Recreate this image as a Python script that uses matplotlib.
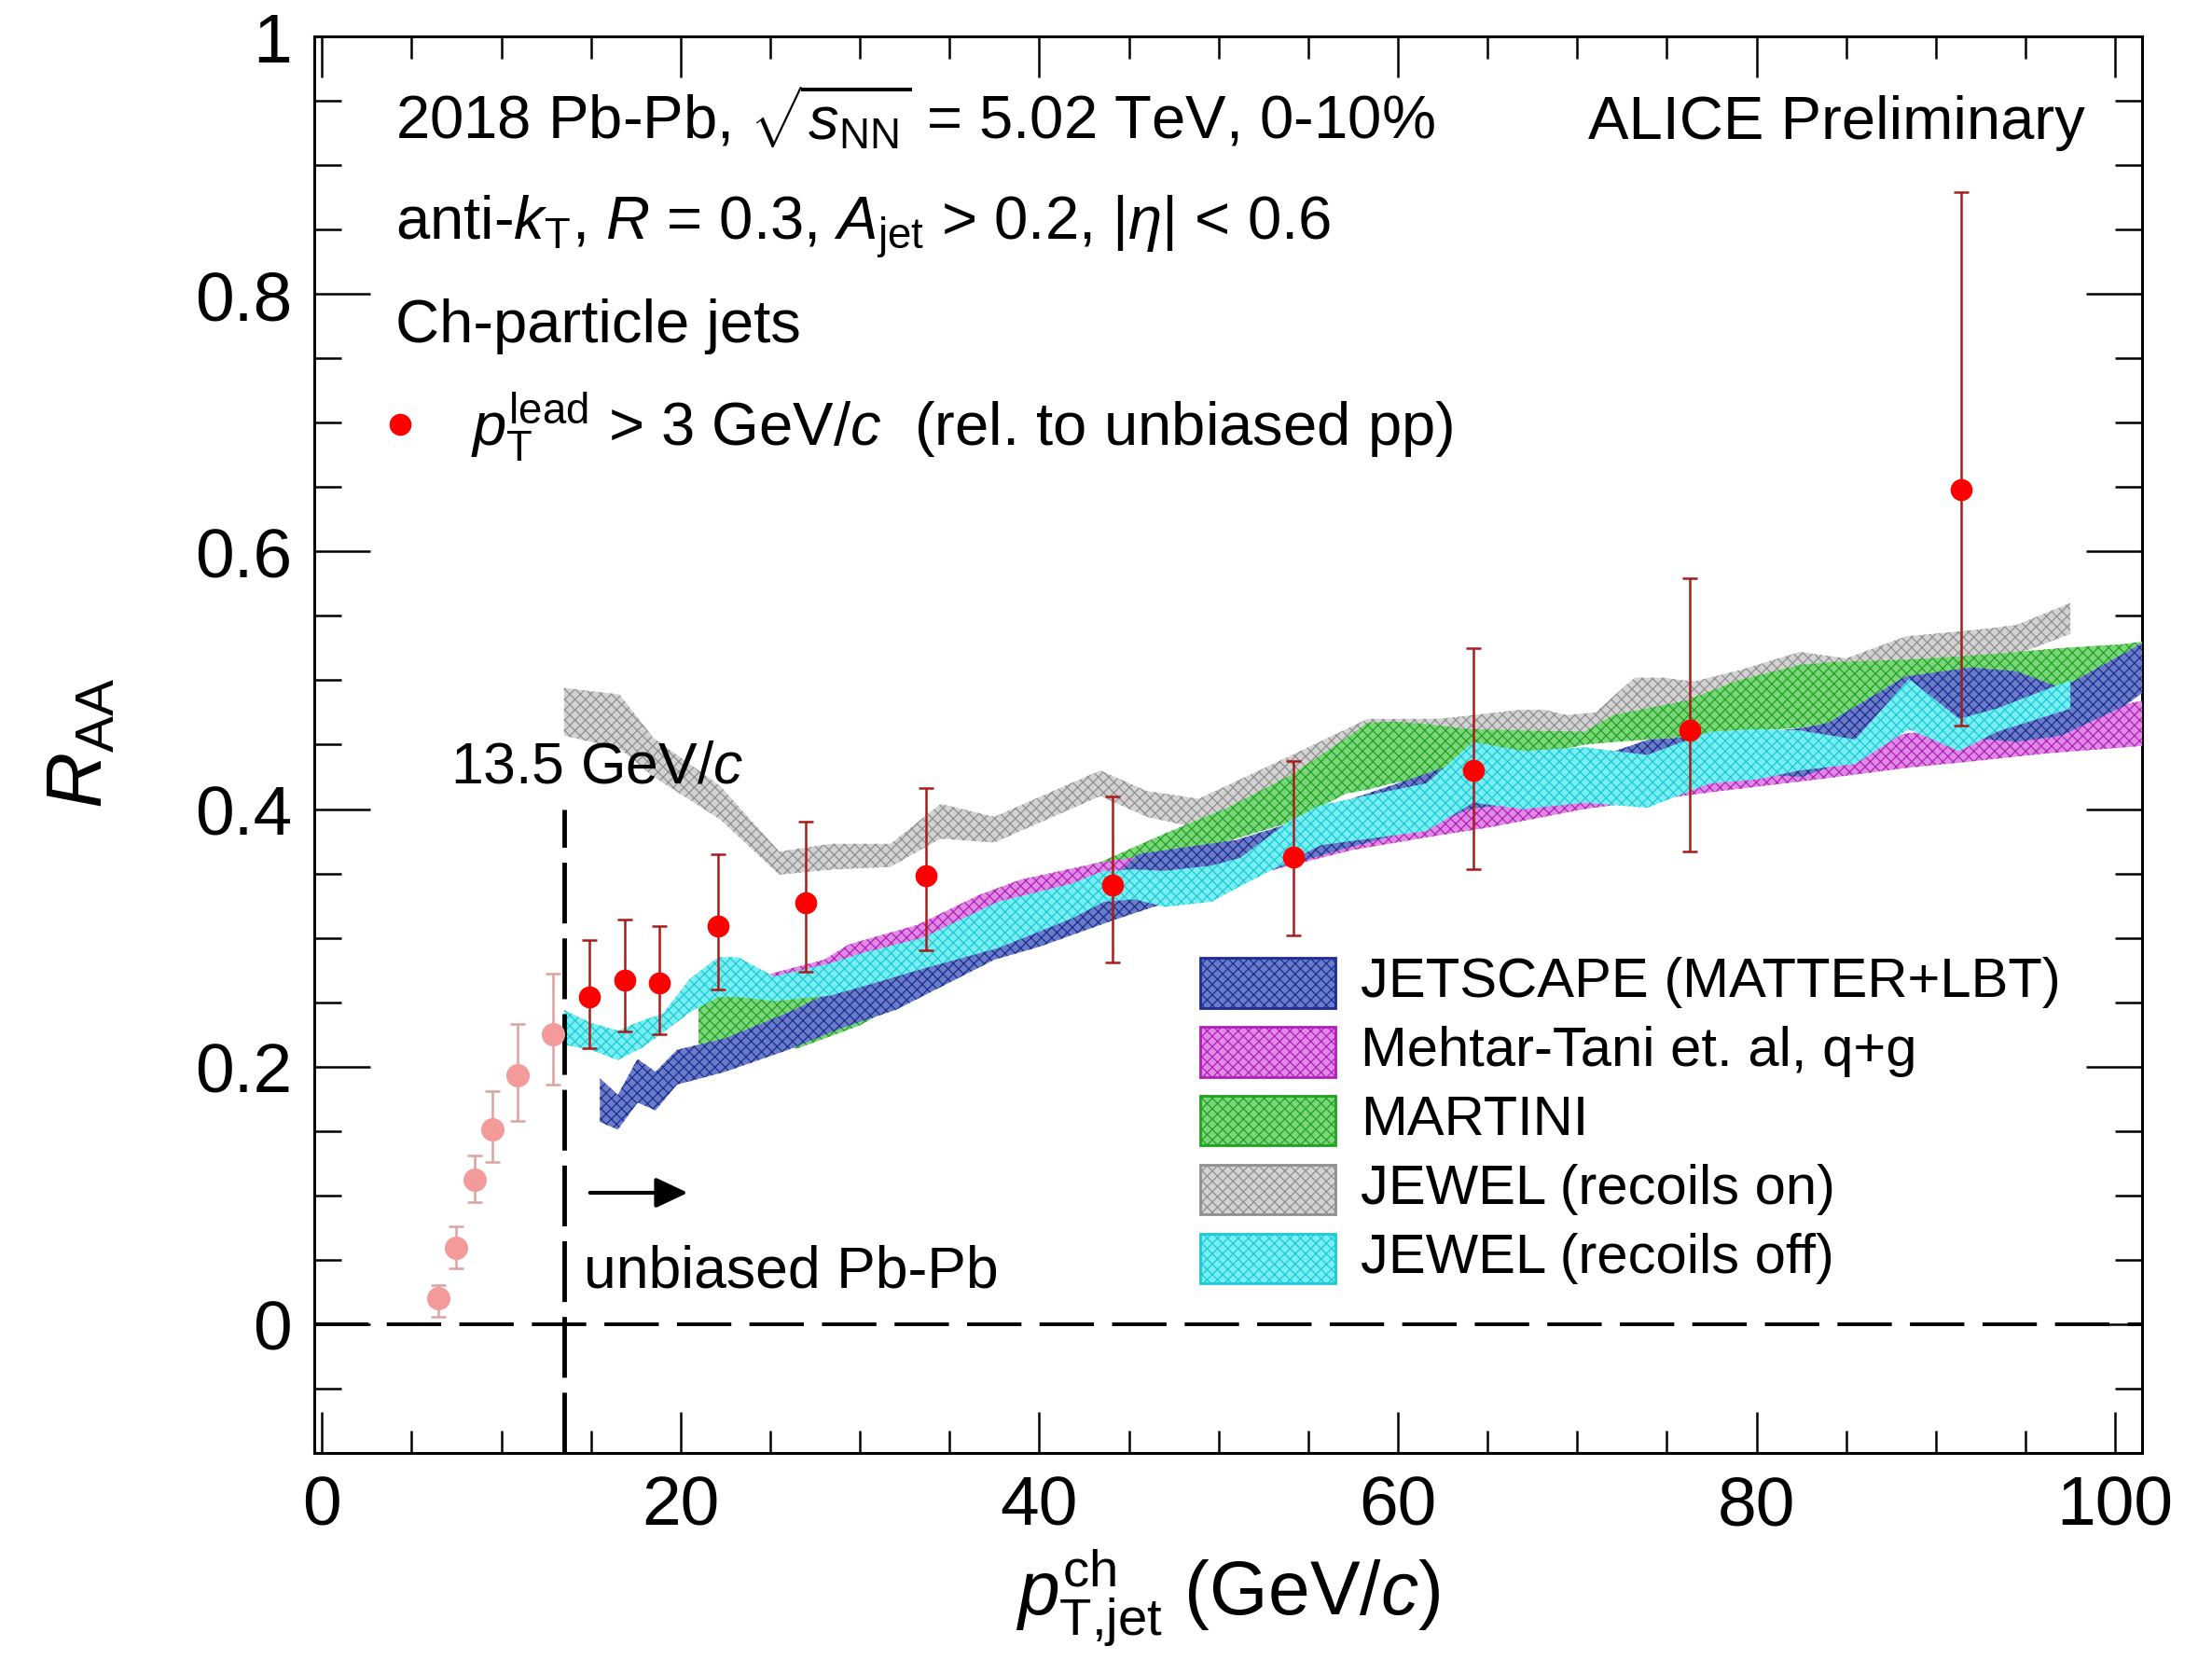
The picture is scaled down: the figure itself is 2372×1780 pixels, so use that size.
import numpy as np
import matplotlib
matplotlib.use("Agg")
import matplotlib.pyplot as plt
from matplotlib.ticker import MultipleLocator, FuncFormatter
from matplotlib.patches import Rectangle

plt.rcParams['font.family'] = ['Liberation Sans', 'DejaVu Sans']
plt.rcParams['mathtext.fontset'] = 'custom'
plt.rcParams['mathtext.rm'] = 'Liberation Sans'
plt.rcParams['mathtext.it'] = 'Liberation Sans:italic'
plt.rcParams['mathtext.bf'] = 'Liberation Sans:bold'
plt.rcParams['hatch.linewidth'] = 0.9

# ---------------- data ----------------
# ALICE points, pT,lead > 3 GeV/c (above 13.5 GeV/c)
x_red = [14.9, 16.9, 18.8, 22.1, 27.0, 33.7, 44.1, 54.2, 64.2, 76.3, 91.4]
y_red = [0.254, 0.267, 0.265, 0.309, 0.327, 0.348, 0.341, 0.363, 0.430, 0.461, 0.648]
y_red_hi = [0.298, 0.314, 0.309, 0.365, 0.390, 0.416, 0.410, 0.437, 0.525, 0.579, 0.879]
y_red_lo = [0.214, 0.227, 0.225, 0.260, 0.274, 0.290, 0.281, 0.302, 0.353, 0.367, 0.465]

# biased region points (below 13.5 GeV/c)
x_pink = [6.5, 7.5, 8.5, 9.5, 10.9, 12.9]
y_pink = [0.020, 0.059, 0.112, 0.151, 0.193, 0.225]
y_pink_hi = [0.030, 0.076, 0.131, 0.181, 0.233, 0.272]
y_pink_lo = [0.006, 0.043, 0.095, 0.126, 0.158, 0.186]

# JETSCAPE (MATTER+LBT)
js_x = [15.5, 16.5, 17.6, 18.6, 19.8, 22.5, 26.0, 29.0, 32.0, 37.5, 40.0, 44.0, 45.5, 51.0, 54.0,
        57.0, 61.5, 64.0, 67.0, 69.0, 71.0, 74.0, 77.5, 79.0, 82.5, 84.0, 88.3, 92.0, 94.5, 97.0,
        100.5, 101.5]
js_hi = [0.191, 0.178, 0.206, 0.196, 0.213, 0.222, 0.242, 0.262, 0.276, 0.305, 0.318, 0.345, 0.365,
         0.376, 0.389, 0.406, 0.427, 0.439, 0.444, 0.444, 0.440, 0.454, 0.457, 0.457, 0.463, 0.467,
         0.503, 0.510, 0.507, 0.494, 0.521, 0.529]
js_lo = [0.157, 0.151, 0.172, 0.166, 0.186, 0.196, 0.213, 0.230, 0.244, 0.283, 0.293, 0.313, 0.320,
         0.345, 0.357, 0.369, 0.386, 0.400, 0.405, 0.407, 0.407, 0.411, 0.425, 0.428, 0.425, 0.432,
         0.462, 0.455, 0.452, 0.457, 0.480, 0.490]

# Mehtar-Tani et. al, q+g
mt_x = [25.0, 28.0, 29.4, 33.2, 36.6, 38.9, 43.2, 50.0, 57.4, 61.6, 65.2, 70.4, 77.4, 83.4, 88.4,
        92.0, 96.0, 101.5]
mt_hi = [0.272, 0.283, 0.295, 0.310, 0.333, 0.345, 0.358, 0.372, 0.392, 0.402, 0.408, 0.415, 0.426,
         0.440, 0.459, 0.462, 0.470, 0.484]
mt_lo = [0.255, 0.262, 0.268, 0.280, 0.295, 0.302, 0.318, 0.342, 0.368, 0.378, 0.386, 0.400, 0.413,
         0.423, 0.432, 0.437, 0.443, 0.449]

# MARTINI
ma_x = [21.0, 24.5, 26.5, 30.0, 33.0, 36.6, 38.9, 43.6, 47.0, 50.5, 54.1, 57.1, 58.3, 59.7, 61.6,
        64.0, 70.4, 72.0, 76.0, 79.0, 82.4, 84.0, 88.3, 92.8, 97.0, 100.4, 101.5]
ma_hi = [0.254, 0.257, 0.262, 0.282, 0.300, 0.322, 0.338, 0.360, 0.381, 0.401, 0.427, 0.455, 0.467,
         0.468, 0.466, 0.462, 0.460, 0.473, 0.484, 0.500, 0.512, 0.514, 0.516, 0.520, 0.525, 0.528,
         0.530]
ma_lo = [0.217, 0.217, 0.214, 0.232, 0.255, 0.285, 0.300, 0.330, 0.355, 0.375, 0.390, 0.412, 0.415,
         0.420, 0.424, 0.430, 0.450, 0.452, 0.456, 0.460, 0.463, 0.467, 0.480, 0.490, 0.495, 0.500,
         0.500]

# JEWEL (recoils on)
jo_x = [13.5, 16.6, 18.5, 22.2, 25.5, 28.4, 31.7, 34.5, 37.5, 43.4, 46.0, 48.9, 54.1, 58.3, 62.3,
        66.8, 68.2, 69.4, 71.0, 73.2, 74.8, 76.5, 79.1, 82.4, 85.0, 88.3, 92.8, 94.5, 97.5]
jo_hi = [0.494, 0.489, 0.455, 0.418, 0.367, 0.373, 0.373, 0.404, 0.394, 0.430, 0.414, 0.408, 0.442,
         0.470, 0.470, 0.477, 0.477, 0.473, 0.475, 0.502, 0.502, 0.499, 0.508, 0.522, 0.517, 0.534,
         0.540, 0.543, 0.560]
jo_lo = [0.457, 0.447, 0.425, 0.392, 0.349, 0.353, 0.355, 0.377, 0.374, 0.410, 0.394, 0.385, 0.420,
         0.450, 0.455, 0.455, 0.455, 0.455, 0.455, 0.470, 0.478, 0.478, 0.490, 0.505, 0.505, 0.515,
         0.518, 0.520, 0.536]

# JEWEL (recoils off)
jf_x = [13.5, 15.0, 16.5, 17.9, 19.0, 20.5, 22.1, 23.2, 25.2, 28.3, 30.1, 33.5, 37.7, 41.8, 43.6,
        45.3, 47.0, 49.6, 51.2, 54.0, 55.7, 61.6, 64.2, 67.0, 70.4, 73.9, 77.4, 80.0, 82.4, 85.5,
        88.5, 91.3, 93.4, 97.5]
jf_hi = [0.244, 0.234, 0.228, 0.236, 0.241, 0.268, 0.285, 0.285, 0.270, 0.280, 0.288, 0.300, 0.328,
         0.342, 0.352, 0.353, 0.352, 0.356, 0.362, 0.391, 0.403, 0.420, 0.452, 0.445, 0.448, 0.442,
         0.460, 0.462, 0.461, 0.454, 0.501, 0.470, 0.478, 0.500]
jf_lo = [0.217, 0.213, 0.205, 0.215, 0.226, 0.242, 0.254, 0.254, 0.251, 0.255, 0.262, 0.276, 0.292,
         0.315, 0.328, 0.330, 0.324, 0.328, 0.340, 0.360, 0.372, 0.383, 0.405, 0.400, 0.405, 0.401,
         0.420, 0.423, 0.430, 0.435, 0.462, 0.445, 0.460, 0.478]

legend_labels = ["JETSCAPE (MATTER+LBT)", "Mehtar-Tani et. al, q+g", "MARTINI",
                 "JEWEL (recoils on)", "JEWEL (recoils off)"]

x_ticks = [0, 20, 40, 60, 80, 100]
y_ticks = [0, 0.2, 0.4, 0.6, 0.8, 1.0]

# ---------------- styles ----------------
sty = {
    'js': dict(face='#6a7cc8', hatch='#1b2d8f'),
    'mt': dict(face='#e08ae6', hatch='#b020b8'),
    'ma': dict(face='#7ad67a', hatch='#22a022'),
    'jo': dict(face='#d2d2d2', hatch='#8f8f8f'),
    'jf': dict(face='#78eef2', hatch='#1ccad4'),
}
HATCH = 'xxx'

fig = plt.figure(figsize=(23.72, 17.81), dpi=100)
ax = fig.add_axes([0.1419, 0.1247, 0.9684 - 0.1419, 0.9775 - 0.1247])
ax.set_xlim(-0.45, 101.5)
ax.set_ylim(-0.1, 1.0)


def band(x, lo, hi, key, z):
    s = sty[key]
    ax.fill_between(x, lo, hi, facecolor=s['face'], edgecolor=s['hatch'], hatch=HATCH,
                    linewidth=0, zorder=z)


band(jo_x, jo_lo, jo_hi, 'jo', 2)
band(ma_x, ma_lo, ma_hi, 'ma', 3)
band(mt_x, mt_lo, mt_hi, 'mt', 4)
band(js_x, js_lo, js_hi, 'js', 5)
band(jf_x, jf_lo, jf_hi, 'jf', 6)

# reference lines
ax.axhline(0, color='k', lw=2.8, dashes=(15, 5), zorder=7)
ax.plot([13.5, 13.5], [-0.1, 0.4], color='k', lw=3.5, dashes=(13.4, 3.3), zorder=7)

# data points
yr = np.array(y_red)
ax.errorbar(x_red, y_red, yerr=[yr - np.array(y_red_lo), np.array(y_red_hi) - yr], fmt='o',
            color='#ff0000', mec='#ff0000', ecolor='#a81c1c', elinewidth=1.8, capsize=6,
            capthick=1.8, ms=16, zorder=10)
yp = np.array(y_pink)
ax.errorbar(x_pink, y_pink, yerr=[yp - np.array(y_pink_lo), np.array(y_pink_hi) - yp], fmt='o',
            color='#f39a9a', mec='#f39a9a', ecolor='#dba2a2', elinewidth=1.8, capsize=6,
            capthick=1.8, ms=17, zorder=9)

# arrow
ax.annotate('', xy=(20.4, 0.102), xytext=(14.95, 0.102),
            arrowprops=dict(arrowstyle='-|>,head_length=0.7,head_width=0.33', color='k', lw=3,
                            mutation_scale=30, shrinkA=0, shrinkB=0), zorder=8)

# texts
TS = 47
ax.text(4.08, 0.921, r"2018 Pb-Pb, $\sqrt{s_{\mathrm{NN}}}$ = 5.02 TeV, 0-10%", size=TS,
        ha='left', va='baseline', zorder=12)
ax.text(98.3, 0.921, "ALICE Preliminary", size=TS, ha='right', va='baseline', zorder=12)
ax.text(4.08, 0.842, r"anti-$k_{\mathrm{T}}$, $R$ = 0.3, $A_{\mathrm{jet}}$ > 0.2, $|\eta|$ < 0.6",
        size=TS, ha='left', va='baseline', zorder=12)
ax.text(4.08, 0.763, "Ch-particle jets", size=TS, ha='left', va='baseline', zorder=12)
ax.plot([4.35], [0.6986], 'o', color='#ff0000', ms=16, zorder=12)
ax.text(8.3, 0.683, r"$p_{\mathrm{T}}^{\mathrm{lead}}$ > 3 GeV/$c$  (rel. to unbiased pp)",
        size=TS, ha='left', va='baseline', zorder=12)
ax.text(7.15, 0.421, r"13.5 GeV/$c$", size=45, ha='left', va='baseline', zorder=12)
ax.text(14.6, 0.0293, "unbiased Pb-Pb", size=45, ha='left', va='baseline', zorder=12)

# legend boxes
keys = ['js', 'mt', 'ma', 'jo', 'jf']
leg_y = [0.265, 0.2114, 0.1583, 0.1046, 0.051]
for k, lab, yc in zip(keys, legend_labels, leg_y):
    s = sty[k]
    ax.add_patch(Rectangle((48.96, yc - 0.0193), 7.55, 0.0386, facecolor=s['face'],
                           edgecolor=s['hatch'], hatch=HATCH, lw=2, zorder=11))
    ax.text(57.9, yc - 0.0105, lab, size=43, ha='left', va='baseline', zorder=12)

# axes styling
for sp in ax.spines.values():
    sp.set_linewidth(2.2)
ax.xaxis.set_major_locator(MultipleLocator(20))
ax.xaxis.set_minor_locator(MultipleLocator(5))
ax.yaxis.set_major_locator(MultipleLocator(0.2))
ax.yaxis.set_minor_locator(MultipleLocator(0.05))
ax.set_xticks(x_ticks)
ax.set_yticks(y_ticks)
fmt = FuncFormatter(lambda v, p: '%g' % round(v, 3))
ax.xaxis.set_major_formatter(fmt)
ax.yaxis.set_major_formatter(fmt)
ax.tick_params(which='both', direction='in', top=True, right=True, width=1.8, labelsize=54)
ax.tick_params(axis='x', which='major', length=32, pad=16)
ax.tick_params(axis='x', which='minor', length=17)
ax.tick_params(axis='y', which='major', length=43, pad=17)
ax.tick_params(axis='y', which='minor', length=21)

fig.text(0.555, 0.0275, r"$p_{\mathrm{T{,}jet}}^{\mathrm{ch}}$ (GeV/$c$)", size=58, ha='center',
         va='baseline')
fig.text(0.037, 0.5525, r"$R_{\mathrm{AA}}$", size=60, rotation=90, ha='center', va='center')

fig.savefig('out.png', dpi=100)
